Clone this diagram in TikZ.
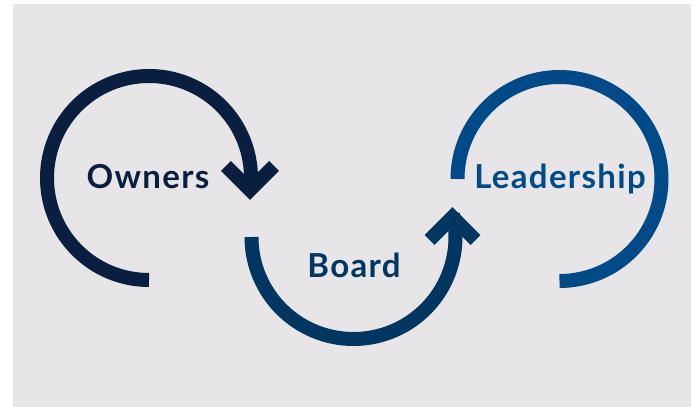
\documentclass[tikz,border=0pt]{standalone}
\usepackage{fontspec}
\setmainfont{Lato}[LetterSpace=4]
\usetikzlibrary{positioning}
\definecolor{ownerblue}{HTML}{0A1F40}
\definecolor{boardblue}{HTML}{00365F}
\definecolor{leadblue}{HTML}{004B87}
\definecolor{backgray}{HTML}{E7E5E8}

\begin{document}
\begin{tikzpicture}[x=1pt,y=1pt]
 \tikzstyle{loop} = [line width=14pt]
 \tikzstyle{head} = [line width=14pt,line join=miter]
 \tikzstyle{word} = [font=\fontsize{33}{33}\selectfont\bfseries,anchor=base,inner sep=0pt]
 \useasboundingbox (0,0) rectangle (697,407);
 \fill[backgray] (13,0) rectangle (691,403);
 % centres of the three loops
 \coordinate (oc) at (149,229);
 \coordinate (bc) at (353.5,170);
 \coordinate (lc) at (559.5,228);
 \node[word,color=ownerblue] (owners) at (148,218) {Owners};
 \node[word,color=boardblue] (board) at (354,129) {Board};
 \node[word,color=leadblue] (leadership) at (560,218) {Leadership};
 % owners loop, arrow down into board
 \draw[loop,ownerblue] (oc) ++(270:102) arc[start angle=270,end angle=-7,radius=102];
 \coordinate (ohead) at (250,217);
 \draw[head,ownerblue] (ohead) ++(-24,24) -- (ohead) -- ++(24,24);
 % board loop, arrow up into leadership
 \draw[loop,boardblue] (bc) ++(180:102) arc[start angle=180,end angle=373,radius=102];
 \coordinate (bhead) at (452.5,190);
 \draw[head,boardblue] (bhead) ++(-23,-23) -- (bhead) -- ++(23,-23);
 % leadership loop
 \draw[loop,leadblue] (lc) ++(180:102) arc[start angle=180,end angle=-90,radius=102];
\end{tikzpicture}
\end{document}
